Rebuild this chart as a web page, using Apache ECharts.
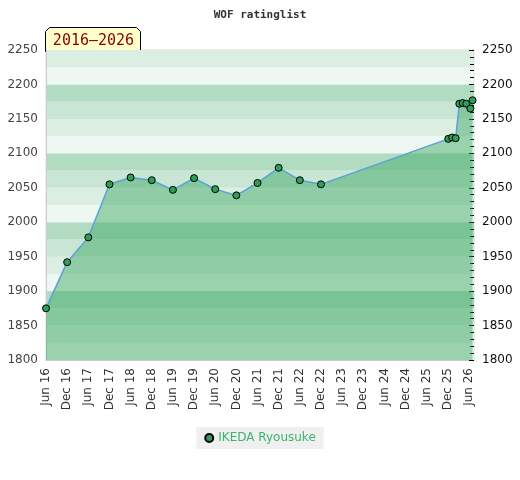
<!DOCTYPE html>
<html lang="en">
<head>
  <meta charset="utf-8" />
  <title>WOF ratinglist</title>
  <script src="https://cdn.jsdelivr.net/npm/echarts@6.0.0/dist/echarts.min.js"></script>
  <style>
    html, body { margin: 0; padding: 0; background: #fff; }
  </style>
</head>
<body>
  <div id="main" style="width: 520px;height:480px;"></div>
  <script>
    // rating history, one point per list date
    var playerName = 'IKEDA Ryousuke';
    var dates = [
      '2016-06-01', '2016-12-01', '2017-06-01', '2017-12-01', '2018-06-01',
      '2018-12-01', '2019-06-01', '2019-12-01', '2020-06-01', '2020-12-01',
      '2021-06-01', '2021-12-01', '2022-06-01', '2022-12-01',
      '2025-12-04', '2026-01-07', '2026-02-07', '2026-03-08', '2026-04-07',
      '2026-05-07', '2026-06-12', '2026-07-01'
    ];
    var ratings = [
      1875, 1942, 1978, 2055, 2065,
      2061, 2047, 2064, 2048, 2039,
      2057, 2079, 2061, 2055,
      2121, 2123, 2122, 2172, 2173,
      2172, 2165, 2177
    ];
    var monthNames = ['Jun', 'Dec'];
    var bandColors = ['#eef7f1', '#dbeee2', '#c9e6d4', '#b2dcc2'];

    // months counted from Jun 2016
    function monthOffset(s) {
      var p = s.split('-');
      return (+p[0] - 2016) * 12 + (+p[1] - 6) + (+p[2] - 1) / 30.5;
    }
    var seriesData = dates.map(function (d, i) {
      return [monthOffset(d), ratings[i]];
    });

    function plain(v) { return String(v); }

    var chartDom = document.getElementById('main');
    var myChart = echarts.init(chartDom);
    var option = {
      animation: false,
      title: {
        text: 'WOF ratinglist',
        left: 'center',
        top: 5,
        textStyle: {
          fontFamily: 'DejaVu Sans Mono',
          fontWeight: 'bold',
          fontSize: 11,
          color: '#333'
        }
      },
      legend: {
        bottom: 31,
        left: 'center',
        backgroundColor: '#f0f0f0',
        padding: [5, 8],
        icon: 'circle',
        itemWidth: 8,
        itemHeight: 8,
        textStyle: { color: '#3cb371', fontSize: 12, fontFamily: 'DejaVu Sans' }
      },
      grid: {
        left: 46,
        right: 46,
        top: 50,
        bottom: 120,
        show: true,
        borderColor: '#ddd',
        borderWidth: 1
      },
      xAxis: {
        type: 'value',
        min: 0,
        max: 121.4,
        interval: 6,
        splitLine: { show: false },
        axisTick: { show: false },
        axisLine: { lineStyle: { color: '#ccc' } },
        axisLabel: {
          rotate: 90,
          color: '#333',
          fontSize: 12,
          fontFamily: 'DejaVu Sans',
          showMaxLabel: false,
          formatter: function (v) {
            if (v % 6 !== 0) return '';
            var k = v / 6;
            var yr = 16 + Math.floor(k / 2);
            return monthNames[k % 2] + ' ' + yr;
          }
        }
      },
      yAxis: [
        {
          type: 'value',
          position: 'left',
          min: 1800,
          max: 2250,
          interval: 50,
          axisLine: { show: true, lineStyle: { color: '#ccc' } },
          axisTick: { show: false },
          splitLine: { show: false },
          axisLabel: { color: '#444', fontSize: 12, fontFamily: 'DejaVu Sans', formatter: plain }
        },
        {
          type: 'value',
          position: 'right',
          min: 1800,
          max: 2250,
          interval: 50,
          axisLine: { show: false },
          axisTick: { show: true, inside: true, length: 5, lineStyle: { color: '#000' } },
          minorTick: { show: true, splitNumber: 5, length: 4, lineStyle: { color: '#000' } },
          splitLine: { show: false },
          axisLabel: { color: '#111', fontSize: 12, fontFamily: 'DejaVu Sans', margin: 8, formatter: plain }
        },
        {
          // background stripes only
          type: 'value',
          position: 'left',
          min: 1800,
          max: 2250,
          interval: 25,
          axisLine: { show: false },
          axisTick: { show: false },
          axisLabel: { show: false },
          splitLine: { show: false },
          splitArea: { show: true, areaStyle: { color: bandColors } }
        }
      ],
      graphic: [
        {
          type: 'group',
          left: 45,
          top: 27,
          children: [
            {
              type: 'polygon',
              shape: { points: [[0, 24], [0, 4], [4, 0], [91, 0], [95, 4], [95, 24]] },
              style: { fill: '#ffffcc', stroke: '#000', lineWidth: 1 }
            },
            {
              type: 'text',
              x: 48,
              y: 14,
              style: {
                text: '2016\u20132026',
                fill: '#8b0000',
                font: '15px "DejaVu Sans Mono"',
                align: 'center',
                verticalAlign: 'middle'
              }
            }
          ]
        }
      ],
      series: [
        {
          name: playerName,
          type: 'line',
          yAxisIndex: 0,
          data: seriesData,
          symbol: 'circle',
          symbolSize: 7,
          itemStyle: { color: '#2e9e58', borderColor: '#000', borderWidth: 1 },
          lineStyle: { color: '#5ba0d8', width: 1.5 },
          areaStyle: { color: 'rgb(54,165,94)', opacity: 0.45, origin: 'start' },
          z: 3
        }
      ]
    };
    myChart.setOption(option);
  </script>
</body>
</html>
